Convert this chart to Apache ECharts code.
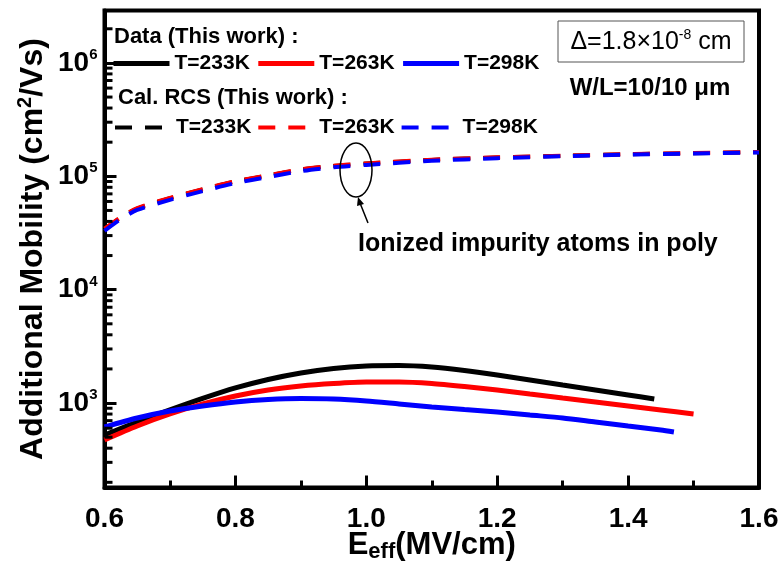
<!DOCTYPE html>
<html>
<head>
<meta charset="utf-8">
<script src="https://cdn.jsdelivr.net/npm/echarts@6/dist/echarts.min.js"></script>
<style>
  html, body { margin: 0; padding: 0; background: #fff; }
  #chart { width: 784px; height: 567px; }
</style>
</head>
<body>
<div id="chart"></div>
<script>
// Measured additional mobility (cm^2/Vs) versus effective field (MV/cm)
const eData233 = [0.60, 0.65, 0.70, 0.75, 0.80, 0.85, 0.90, 0.95, 1.00, 1.05, 1.10, 1.15, 1.20, 1.25, 1.30, 1.35, 1.40, 1.44];
const muData233 = [523, 681, 869, 1098, 1359, 1615, 1843, 2020, 2125, 2146, 2082, 1939, 1769, 1599, 1444, 1305, 1179, 1087];

const eData263 = [0.60, 0.65, 0.70, 0.75, 0.80, 0.85, 0.90, 0.95, 1.00, 1.05, 1.10, 1.15, 1.20, 1.25, 1.30, 1.35, 1.40, 1.45, 1.50];
const muData263 = [473, 628, 801, 982, 1155, 1305, 1415, 1489, 1535, 1535, 1489, 1401, 1305, 1203, 1109, 1023, 943, 869, 801];

const eData298 = [0.60, 0.65, 0.70, 0.75, 0.80, 0.85, 0.90, 0.95, 1.00, 1.05, 1.10, 1.15, 1.20, 1.25, 1.30, 1.35, 1.40, 1.45, 1.47];
const muData298 = [615, 739, 852, 943, 1023, 1076, 1098, 1087, 1044, 982, 924, 878, 835, 785, 739, 681, 628, 579, 556];

// Remote Coulomb scattering (RCS) calculation
const eCalc = [0.600, 0.625, 0.65, 0.70, 0.75, 0.80, 0.85, 0.90, 0.95, 1.00, 1.10, 1.20, 1.30, 1.40, 1.50, 1.60];
const muCalc233 = [34000, 43300, 52000, 64000, 76500, 90000, 101500, 114500, 123500, 129500, 139500, 146500, 151500, 156500, 160000, 163500];
const muCalc263 = [34500, 43700, 52500, 64500, 77000, 90500, 102000, 115000, 124000, 130000, 140000, 147000, 152000, 157000, 160500, 164000];
const muCalc298 = [33000, 42000, 50500, 62000, 74000, 87000, 98500, 111000, 120000, 126000, 137000, 144500, 150500, 155500, 159000, 162500];

// Axis ranges and the 2..9 log sub-ticks
const xRange = [0.6, 1.6];
const yRange = [180, 2.9e6];
const yMinorTicks = [200, 300, 400, 500, 600, 700, 800, 900,
  2000, 3000, 4000, 5000, 6000, 7000, 8000, 9000,
  20000, 30000, 40000, 50000, 60000, 70000, 80000, 90000,
  200000, 300000, 400000, 500000, 600000, 700000, 800000, 900000,
  2000000];

const legendLabels = {
  d233: 'T=233K', d263: 'T=263K', d298: 'T=298K',
  c233: 'T=233K', c263: 'T=263K', c298: 'T=298K'
};

const FONT = 'Liberation Sans, Arial, sans-serif';
const zip = (xs, ys) => xs.map((x, i) => [x, ys[i]]);

const chart = echarts.init(document.getElementById('chart'), null, { renderer: 'canvas' });

function lineSeries(name, xs, ys, color, dashed) {
  return {
    name: name,
    type: 'line',
    data: zip(xs, ys),
    smooth: 0.25,
    symbol: 'none',
    showSymbol: false,
    silent: true,
    lineStyle: {
      color: color,
      width: dashed ? 4 : 5,
      type: dashed ? [17, 13] : 'solid',
      cap: 'butt'
    },
    itemStyle: { color: color },
    z: dashed ? 3 : 4
  };
}

const legendCommon = {
  orient: 'horizontal',
  itemHeight: 14,
  selectedMode: false,
  formatter: name => legendLabels[name],
  textStyle: { fontFamily: FONT, fontWeight: 'bold', fontSize: 21, color: '#000' },
  itemStyle: { opacity: 0 },
  lineStyle: { width: 5 }
};

const option = {
  backgroundColor: '#fff',
  animation: false,
  grid: {
    left: 104.5, right: 25, top: 10.5, bottom: 79.5,
    containLabel: false,
    outerBoundsMode: 'none',
    show: true, borderColor: '#000', borderWidth: 4, backgroundColor: 'transparent'
  },
  legend: [
    Object.assign({}, legendCommon, {
      data: ['d233', 'd263', 'd298'],
      left: 106, top: 48, itemWidth: 56, itemGap: 6
    }),
    Object.assign({}, legendCommon, {
      data: ['c233', 'c263', 'c298'],
      left: 108, top: 112, itemWidth: 50, itemGap: 5,
      lineStyle: { width: 4 },
      textStyle: Object.assign({}, legendCommon.textStyle, { padding: [0, 0, 0, 6] })
    })
  ],
  xAxis: {
    type: 'value',
    min: xRange[0], max: xRange[1], interval: 0.2,
    name: '{e|E}{s|eff}{e|(MV/cm)}',
    nameLocation: 'middle',
    nameMoveOverlap: false,
    nameGap: 40,
    nameTextStyle: {
      rich: {
        e: { fontFamily: FONT, fontWeight: 'bold', fontSize: 31, color: '#000' },
        s: { fontFamily: FONT, fontWeight: 'bold', fontSize: 22, color: '#000', padding: [13, 0, 0, 0] }
      }
    },
    axisLine: { show: true, lineStyle: { color: '#000', width: 4 } },
    axisTick: { show: true, inside: true, length: 12, lineStyle: { color: '#000', width: 3 } },
    minorTick: { show: true, splitNumber: 2, length: 7, lineStyle: { color: '#000', width: 3 } },
    splitLine: { show: false },
    axisLabel: {
      margin: 18,
      fontFamily: FONT, fontWeight: 'bold', fontSize: 28, color: '#000',
      formatter: v => v.toFixed(1)
    }
  },
  yAxis: {
    type: 'log',
    logBase: 10,
    min: yRange[0], max: yRange[1],
    name: '{t|Additional Mobility (cm}{p|2}{t|/Vs)}',
    nameLocation: 'middle',
    nameRotate: 90,
    nameMoveOverlap: false,
    nameGap: 54,
    nameTextStyle: {
      rich: {
        t: { fontFamily: FONT, fontWeight: 'bold', fontSize: 32, color: '#000' },
        p: { fontFamily: FONT, fontWeight: 'bold', fontSize: 20, color: '#000', padding: [0, 0, 15, 0] }
      }
    },
    axisLine: { show: true, lineStyle: { color: '#000', width: 4 } },
    axisTick: { show: true, inside: true, length: 12, lineStyle: { color: '#000', width: 3 } },
    splitLine: { show: false },
    axisLabel: {
      margin: 7,
      showMinLabel: false,
      showMaxLabel: false,
      formatter: v => {
        const e = Math.log10(v);
        if (Math.abs(e - Math.round(e)) > 1e-6) return '';
        return '{b|10}{s|' + Math.round(e) + '}';
      },
      rich: {
        b: { fontFamily: FONT, fontWeight: 'bold', fontSize: 28, color: '#000' },
        s: { fontFamily: FONT, fontWeight: 'bold', fontSize: 15, color: '#000', padding: [0, 0, 16, 0] }
      }
    }
  },
  series: [
    lineSeries('c233', eCalc, muCalc233, '#000000', true),
    lineSeries('c263', eCalc, muCalc263, '#ff0000', true),
    lineSeries('c298', eCalc, muCalc298, '#0000ff', true),
    lineSeries('d233', eData233, muData233, '#000000', false),
    lineSeries('d263', eData263, muData263, '#ff0000', false),
    lineSeries('d298', eData298, muData298, '#0000ff', false),
    {
      // log sub-ticks (2..9 of each decade) on the left axis, pointing inward
      type: 'custom',
      silent: true,
      clip: false,
      z: 6,
      data: yMinorTicks.map(v => [xRange[0], v]),
      renderItem: (params, api) => {
        const p = api.coord([api.value(0), api.value(1)]);
        return {
          type: 'line',
          shape: { x1: p[0], y1: p[1], x2: p[0] + 8, y2: p[1] },
          style: { stroke: '#000', lineWidth: 3 }
        };
      }
    }
  ],
  graphic: [
    {
      type: 'text', left: 114, top: 26,
      style: { text: 'Data (This work) :', font: 'bold 22px ' + FONT, fill: '#000' }
    },
    {
      type: 'text', left: 118, top: 87,
      style: { text: 'Cal. RCS (This work) :', font: 'bold 22px ' + FONT, fill: '#000' }
    },
    {
      type: 'rect',
      shape: { x: 558, y: 21, width: 186, height: 41 },
      style: { fill: '#fff', stroke: '#555', lineWidth: 1 }
    },
    {
      type: 'text', x: 651, y: 42,
      style: {
        text: '{n|\u0394=1.8\u00d710}{u|-8}{n| cm}',
        align: 'center', verticalAlign: 'middle',
        rich: {
          n: { fontFamily: FONT, fontSize: 25, fill: '#000' },
          u: { fontFamily: FONT, fontSize: 14, fill: '#000', padding: [0, 0, 14, 0] }
        }
      }
    },
    {
      type: 'text', x: 650, y: 88,
      style: {
        text: 'W/L=10/10 \u03bcm', font: 'bold 24px ' + FONT, fill: '#000',
        align: 'center', verticalAlign: 'middle'
      }
    },
    {
      type: 'ellipse',
      shape: { cx: 356, cy: 170, rx: 16, ry: 27 },
      style: { fill: 'none', stroke: '#000', lineWidth: 1.5 },
      z: 10
    },
    {
      type: 'line',
      shape: { x1: 368, y1: 223, x2: 360, y2: 203 },
      style: { stroke: '#000', lineWidth: 1.5 },
      z: 10
    },
    {
      type: 'polygon',
      shape: { points: [[358, 197], [364, 204], [357, 206]] },
      style: { fill: '#000' },
      z: 10
    },
    {
      type: 'text', left: 358, top: 232,
      style: { text: 'Ionized impurity atoms in poly', font: 'bold 25px ' + FONT, fill: '#000' }
    }
  ]
};

chart.setOption(option);
</script>
</body>
</html>
